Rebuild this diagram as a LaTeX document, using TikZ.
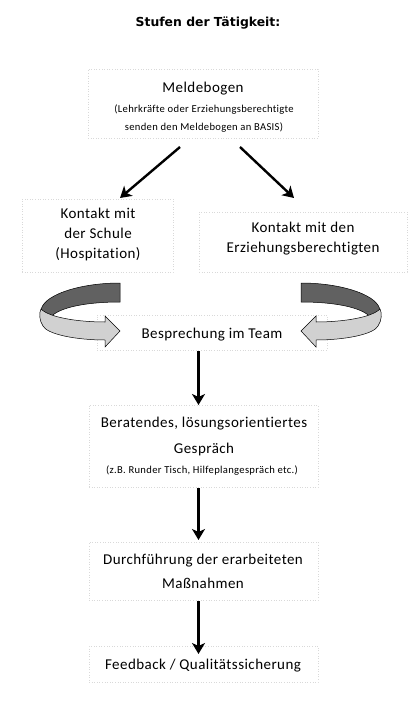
\documentclass[tikz,border=0pt]{standalone}
\usepackage{fontspec}
\setmainfont{Carlito}[Ligatures=NoCommon, LetterSpace=3]
\newfontfamily\titlefont{DejaVu Sans}
\usetikzlibrary{arrows.meta}
\tikzset{
  box/.style={draw=gray!30, dotted, line width=0.6pt, inner sep=0pt},
  txt/.style={anchor=base, inner sep=0pt, font=\fontsize{15}{17}\selectfont},
  small/.style={anchor=base, inner sep=0pt, font=\fontsize{10.6}{12}\selectfont},
  arr/.style={line width=2.4pt, -{Stealth[length=11pt,width=13pt,inset=3pt]}},
  backband/.style={fill=black!62, draw=black, line width=0.5pt},
  frontband/.style={fill=black!18, draw=black, line width=0.5pt}
}
\newcommand\ribbonarrow{%
  \path[backband] (120,283) -- (120,302) .. controls (88,302) and (58,307) .. (50,318)
    -- (41,312) .. controls (40,296) and (78,283) .. (120,283) -- cycle;
  \path[frontband] (41,309) .. controls (50,318) and (80,322) .. (105,322) -- (105,316)
    -- (120,331) -- (105,347) -- (105,340) .. controls (75,340) and (47,334) .. (43,326)
    .. controls (39,320) and (39,313) .. (41,309) -- cycle;
}
\begin{document}
\begin{tikzpicture}[x=1pt,y=-1pt]
\useasboundingbox (0,0) rectangle (419,706);
\fill[white] (0,0) rectangle (419,706);

\node[anchor=base, inner sep=0pt, font=\titlefont\bfseries\fontsize{12.4}{14}\selectfont] (title) at (208,27) {Stufen der Tätigkeit:};

% boxes
\node[box, minimum width=230pt, minimum height=69pt] (mb) at (203,103.5) {};
\node[box, minimum width=151pt, minimum height=73pt] (ks) at (97.5,235.5) {};
\node[box, minimum width=208pt, minimum height=60pt] (ke) at (303,242) {};
\node[box, minimum width=230pt, minimum height=35pt] (bt) at (212,332.5) {};
\node[box, minimum width=229pt, minimum height=82pt] (bg) at (203.5,446) {};
\node[box, minimum width=229pt, minimum height=58pt] (dm) at (203.5,571) {};
\node[box, minimum width=229pt, minimum height=36pt] (fb) at (203.5,664) {};

% texts
\node[txt] (mb1) at (203,93) {Meldebogen};
\node[small] (mb2) at (204,113) {(Lehrkräfte oder Erziehungsberechtigte};
\node[small] (mb3) at (204,131) {senden den Meldebogen an BASIS)};

\node[txt] (ks1) at (98,218) {Kontakt mit};
\node[txt] (ks2) at (98,238) {der Schule};
\node[txt] (ks3) at (98,258) {(Hospitation)};

\node[txt] (ke1) at (303,232) {Kontakt mit den};
\node[txt] (ke2) at (303,252) {Erziehungsberechtigten};

\node[txt] (bt1) at (212,338) {Besprechung im Team};

\node[txt] (bg1) at (204,427) {Beratendes, lösungsorientiertes};
\node[txt] (bg2) at (204,453) {Gespräch};
\node[small] (bg3) at (202,473) {(z.B. Runder Tisch, Hilfeplangespräch etc.)};

\node[txt] (dm1) at (203,564) {Durchführung der erarbeiteten};
\node[txt] (dm2) at (203,588) {Maßnahmen};

\node[txt] (fb1) at (203,669) {Feedback / Qualitätssicherung};

% straight arrows
\coordinate (l0) at (180,147);
\coordinate (l1) at (120,198);
\coordinate (r0) at (240,147);
\coordinate (r1) at (294,198);
\draw[arr] (l0) -- (l1);
\draw[arr] (r0) -- (r1);

\coordinate (v1a) at (198.5,351);
\coordinate (v1b) at (198.5,405);
\coordinate (v2a) at (198.5,488);
\coordinate (v2b) at (198.5,540);
\coordinate (v3a) at (198.5,601);
\coordinate (v3b) at (198.5,654);
\draw[arr] (v1a) -- (v1b);
\draw[arr] (v2a) -- (v2b);
\draw[arr] (v3a) -- (v3b);

% curved ribbon arrows
\begin{scope}
\ribbonarrow
\end{scope}
\begin{scope}[shift={(421,0)}, xscale=-1]
\ribbonarrow
\end{scope}
\end{tikzpicture}
\end{document}
